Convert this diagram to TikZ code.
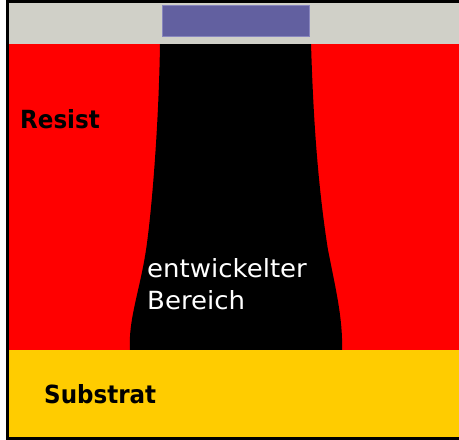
\documentclass[tikz,border=0pt]{standalone}
\usepackage{fontspec}
\setmainfont{DejaVu Sans}
\newfontfamily\labelbold[FakeStretch=0.92]{DejaVu Sans Bold}
\newfontfamily\labelwide[FakeStretch=1.04]{DejaVu Sans}
\definecolor{maskgray}{RGB}{208,208,200}
\definecolor{maskblue}{RGB}{98,96,160}
\definecolor{maskedge}{RGB}{136,134,190}
\definecolor{resistred}{RGB}{255,0,0}
\definecolor{substratgold}{RGB}{255,204,0}
\tikzset{
  layerlabel/.style={anchor=base west, inner sep=0pt, font=\labelbold\fontsize{25}{30}\selectfont, text=black},
  regionlabel/.style={anchor=base west, inner sep=0pt, font=\labelwide\fontsize{25}{32}\selectfont, text=white},
}
\begin{document}
\begin{tikzpicture}[x=1pt,y=-1pt]
  \useasboundingbox (0,0) rectangle (459,440);
  % resist layer
  \fill[resistred] (7,43) rectangle (461,351);
  % developed region in the resist
  \fill[black] (130,351) -- (130,350)
      .. controls (128,320) and (140,290) .. (146,250)
      .. controls (152,210) and (159,120) .. (160,43)
      -- (311,43)
      .. controls (313,110) and (317,180) .. (328,250)
      .. controls (336,290) and (343,320) .. (342,350)
      -- (342,351) -- cycle;
  % mask with absorber
  \fill[maskgray] (7,1.5) rectangle (461,43.5);
  \filldraw[fill=maskblue, draw=maskedge, line width=0.8pt] (162,5) rectangle (309,36);
  % substrate
  \fill[substratgold] (7,350) rectangle (461,438);
  % outer frame
  \draw[line width=3pt] (7,1.5) rectangle (462,438.5);
  % labels
  \node[layerlabel] (resist) at (20,128) {Resist};
  \node[layerlabel] (substrat) at (44,403) {Substrat};
  \node[regionlabel] (entw) at (147,277) {entwickelter};
  \node[regionlabel] (bereich) at (147,309) {Bereich};
\end{tikzpicture}
\end{document}
